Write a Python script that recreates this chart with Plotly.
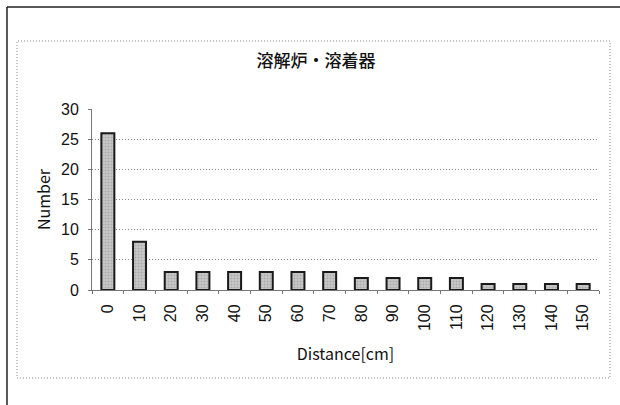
import plotly.graph_objects as go

categories = ["0", "10", "20", "30", "40", "50", "60", "70", "80", "90",
              "100", "110", "120", "130", "140", "150"]
counts = [26, 8, 3, 3, 3, 3, 3, 3, 2, 2, 2, 2, 1, 1, 1, 1]
y_ticks = [0, 5, 10, 15, 20, 25, 30]
title_text = "溶解炉・溶着器"
x_title = "Distance[cm]"
y_title = "Number"

FONT = "Noto Sans CJK JP"

fig = go.Figure()
fig.add_trace(go.Bar(
    x=categories, y=counts,
    marker=dict(color="#b4b4b4",
                line=dict(color="#1a1a1a", width=2),
                pattern=dict(shape=".", fgcolor="#8a8a8a", bgcolor="#c8c8c8",
                             size=3, solidity=0.35)),
    width=0.41,
    showlegend=False,
))

L, R, T, B = 92, 21, 109, 115
W, H = 620, 405
pw = W - L - R
ph = H - T - B

def px(x):
    return (x - L) / pw

def py(y):
    return (H - B - y) / ph

shapes = [
    # dashed chart-area border
    dict(type="rect", xref="paper", yref="paper",
         x0=px(17), x1=px(610), y0=py(378), y1=py(41),
         line=dict(color="#8a8a8a", width=1, dash="1px,2px"), layer="below"),
    # outer page frame (top and left)
    dict(type="line", xref="paper", yref="paper",
         x0=px(7), x1=px(620), y0=py(7), y1=py(7),
         line=dict(color="#222222", width=1.5)),
    dict(type="line", xref="paper", yref="paper",
         x0=px(7), x1=px(7), y0=py(7), y1=py(405),
         line=dict(color="#222222", width=1.5)),
]

fig.update_layout(
    width=W, height=H,
    margin=dict(l=L, r=R, t=T, b=B),
    paper_bgcolor="white", plot_bgcolor="white",
    font=dict(family=FONT, color="#111111", size=15),
    title=dict(text=title_text, x=316 / W, xref="container", xanchor="center",
               y=1 - 61 / H, yref="container", yanchor="middle",
               font=dict(family=FONT, size=17, color="#111111", weight=500)),
    shapes=shapes,
    bargap=0.59,
)

fig.update_xaxes(
    type="category", categoryorder="array", categoryarray=categories,
    tickangle=-90, tickfont=dict(family="Liberation Sans", size=16),
    ticks="outside", tickson="boundaries", ticklen=3, tickcolor="#777777",
    ticklabelstandoff=7,
    showline=True, linecolor="#777777", linewidth=1,
    showgrid=False,
    title=dict(text=x_title, font=dict(family=FONT, size=16), standoff=18),
)
fig.update_yaxes(
    range=[0, 30], tickvals=y_ticks,
    tickfont=dict(family="Liberation Sans", size=16),
    ticks="outside", ticklen=3, tickcolor="#777777",
    ticklabelstandoff=6,
    showline=True, linecolor="#777777", linewidth=1,
    showgrid=True, gridcolor="#8a8a8a", griddash="1px,2px", gridwidth=1,
    zeroline=False,
    title=dict(text=y_title, font=dict(family=FONT, size=16), standoff=6),
)

fig.write_html(
    "out.html",
    config={"displayModeBar": False},
    post_script="document.body.style.margin='0';document.body.style.padding='0';",
)
